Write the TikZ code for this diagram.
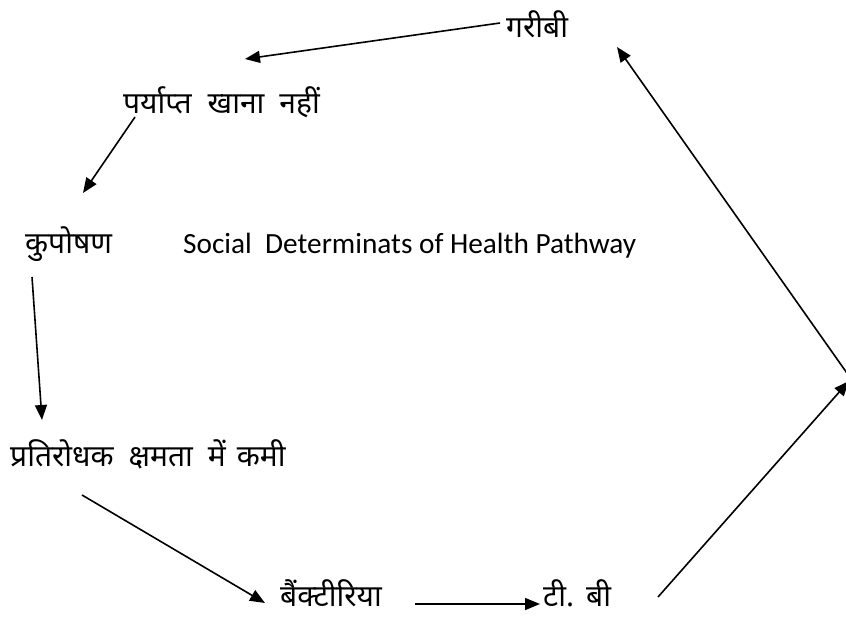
\documentclass[tikz,border=0pt]{standalone}
\usepackage{fontspec}
\newfontfamily\hindi[Script=Devanagari]{Noto Sans}
\newfontfamily\engl{Carlito}
\usetikzlibrary{arrows.meta}
\begin{document}
\begin{tikzpicture}[x=1pt,y=-1pt,
  hin/.style={inner sep=0pt,anchor=base west,font=\hindi\fontsize{30}{36}\selectfont},
  eng/.style={inner sep=0pt,anchor=base west,font=\engl\fontsize{29.3}{34}\selectfont},
  conn/.style={line width=1.6pt,-{Triangle[length=15pt,width=12pt]}}]
\useasboundingbox (0,0) rectangle (846,618);
\clip (0,0) rectangle (846,618);
% nodes
\node[hin] (gareebi) at (506,38) {गरीबी};
\node[hin] (paryapt) at (123,113) {पर्याप्त\hspace{16pt}खाना\hspace{15pt}नहीं};
\node[hin] (kuposhan) at (25,253) {कुपोषण};
\node[eng] (social) at (183,253) {Social\ \ Determinats of Health Pathway};
\node[hin] (pratirodh) at (10,466) {प्रतिरोधक\hspace{15pt}क्षमता\hspace{15pt}में\hspace{11pt}कमी};
\node[hin] (bacteria) at (280,606) {बैंक्टीरिया};
\node[hin] (tb) at (543,606) {टी.\hspace{12pt}बी};
% connector end points
\coordinate (g1) at (500,23);   \coordinate (p0) at (245,59);
\coordinate (p1) at (135,117);  \coordinate (k0) at (83,193);
\coordinate (k1) at (32,277);   \coordinate (r0) at (42,420);
\coordinate (r1) at (82,495);   \coordinate (b0) at (265,603);
\coordinate (b1) at (415,604);  \coordinate (t0) at (540,604);
\coordinate (t1) at (658,597);  \coordinate (e0) at (849,381);
\coordinate (e1) at (849,376);  \coordinate (g0) at (617,47);
% connectors
\draw[conn] (g1) -- (p0);
\draw[conn] (p1) -- (k0);
\draw[conn] (k1) -- (r0);
\draw[conn] (r1) -- (b0);
\draw[conn] (b1) -- (t0);
\draw[conn] (t1) -- (e0);
\draw[conn] (e1) -- (g0);
\end{tikzpicture}
\end{document}
